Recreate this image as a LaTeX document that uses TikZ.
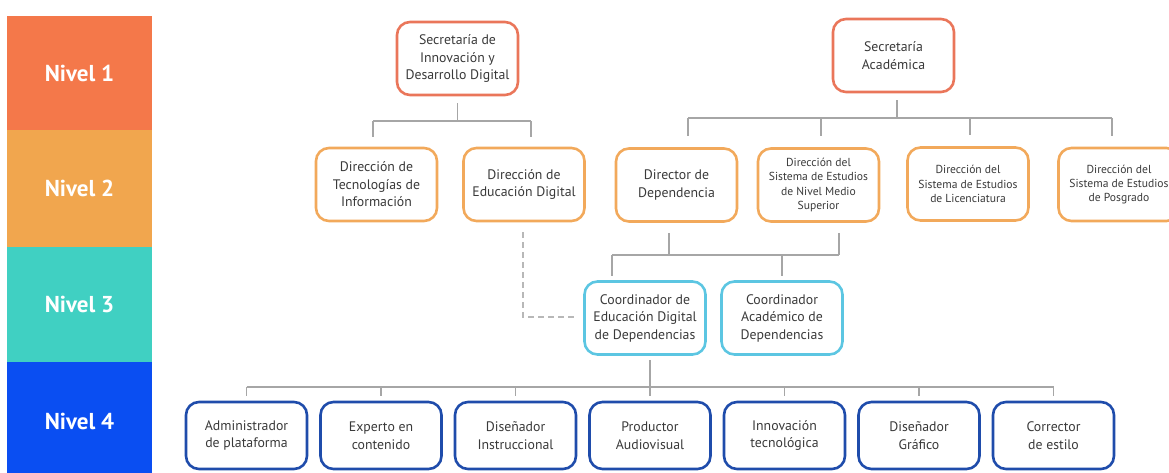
\documentclass[tikz,border=0pt]{standalone}
\usepackage{fontspec}
\setmainfont{PT Sans}
\usetikzlibrary{calc}
\definecolor{bandA}{HTML}{F4784A}
\definecolor{bandB}{HTML}{F1A64E}
\definecolor{bandC}{HTML}{40D0C2}
\definecolor{bandD}{HTML}{0A4EF2}
\definecolor{edgeA}{HTML}{EA765A}
\definecolor{edgeB}{HTML}{F2A95B}
\definecolor{edgeC}{HTML}{5CC6E2}
\definecolor{edgeD}{HTML}{1F4CAB}
\definecolor{txt}{HTML}{3A3A3A}
\definecolor{conncol}{HTML}{A6A6A6}
\tikzset{
  band/.style={fill=#1, draw=none, minimum width=145pt, inner sep=0pt, text=white,
    font=\fontsize{23}{27}\selectfont\bfseries},
  orgbox/.style={draw=#1, rounded corners=13pt, line width=2.6pt, fill=white, align=center,
    inner sep=0pt, minimum width=121pt, minimum height=73pt, text=txt,
    font=\fontsize{13.8}{17.5}\selectfont},
  smallbox/.style={orgbox=#1, font=\fontsize{11.6}{14.3}\selectfont},
  conn/.style={draw=conncol, line width=1.4pt},
  dconn/.style={draw=conncol!80, line width=1.4pt, dash pattern=on 6pt off 4pt}
}
\begin{document}
\begin{tikzpicture}[x=1pt,y=-1pt]
\useasboundingbox (0,0) rectangle (1169,472);
% level bands
\node[band=bandA, minimum height=114pt] (L1) at (79.5,73) {Nivel 1};
\node[band=bandB, minimum height=117pt] (L2) at (79.5,188.5) {Nivel 2};
\node[band=bandC, minimum height=115pt] (L3) at (79.5,304.5) {Nivel 3};
\node[band=bandD, minimum height=118pt] (L4) at (79.5,421) {Nivel 4};
% level 1
\node[orgbox=edgeA] (SID) at (457.5,58.5) {Secretaría de\\Innovación y\\Desarrollo Digital};
\node[orgbox=edgeA] (SA) at (893.5,55.5) {Secretaría\\Académica};
% level 2
\node[orgbox=edgeB] (DTI) at (376.5,184.5) {Dirección de\\Tecnologías de\\Información};
\node[orgbox=edgeB] (DED) at (524,184.5) {Dirección de\\Educación Digital};
\node[orgbox=edgeB] (DD) at (676.5,185) {Director de\\Dependencia};
\node[smallbox=edgeB] (DSNMS) at (818.5,185) {Dirección del\\Sistema de Estudios\\de Nivel Medio\\Superior};
\node[smallbox=edgeB] (DSL) at (968,184) {Dirección del\\Sistema de Estudios\\de Licenciatura};
\node[smallbox=edgeB] (DSP) at (1119,184.5) {Dirección del\\Sistema de Estudios\\de Posgrado};
% level 3
\node[orgbox=edgeC] (CED) at (645,318) {Coordinador de\\Educación Digital\\de Dependencias};
\node[orgbox=edgeC] (CAD) at (782,318) {Coordinador\\Académico de\\Dependencias};
% level 4
\foreach \n/\t [count=\i from 0] in {ADM/{Administrador\\de plataforma},EXP/{Experto en\\contenido},DIN/{Diseñador\\Instruccional},PRO/{Productor\\Audiovisual},INN/{Innovación\\tecnológica},DGR/{Diseñador\\Gráfico},COR/{Corrector\\de estilo}}
  \node[orgbox=edgeD, minimum height=67pt] (\n) at (246.5+134.5*\i,435.5) {\t};
% tree 1
\coordinate (b1l) at (373,121);
\coordinate (b1r) at (531,121);
\draw[conn, shorten <=7pt] (SID.south) -- (SID.south |- b1l);
\draw[conn] (b1l) -- (b1r);
\draw[conn, shorten >=10pt] (b1l) -- (b1l |- DTI.north);
\draw[conn, shorten >=10pt] (b1r) -- (b1r |- DED.north);
% tree 2
\coordinate (b2s) at (897,118);
\coordinate (b2a) at (688,118);
\coordinate (b2b) at (821,118);
\coordinate (b2c) at (970,118);
\coordinate (b2d) at (1112,118);
\draw[conn, shorten <=7pt] (b2s |- SA.south) -- (b2s);
\draw[conn] (b2a) -- (b2d);
\draw[conn, shorten >=11pt] (b2a) -- (b2a |- DD.north);
\draw[conn, shorten >=11pt] (b2b) -- (b2b |- DSNMS.north);
\draw[conn, shorten >=11pt] (b2c) -- (b2c |- DSL.north);
\draw[conn, shorten >=11pt] (b2d) -- (b2d |- DSP.north);
% tree 3
\coordinate (b3a) at (669,255);
\coordinate (b3b) at (839,255);
\coordinate (b3l) at (612,255);
\coordinate (b3r) at (782,255);
\draw[conn, shorten <=10pt] (b3a |- DD.south) -- (b3a);
\draw[conn, shorten <=10pt] (b3b |- DSNMS.south) -- (b3b);
\draw[conn] (b3l) -- (b3b);
\draw[conn, shorten >=4pt] (b3l) -- (b3l |- CED.north);
\draw[conn, shorten >=4pt] (b3r) -- (b3r |- CAD.north);
% dashed link
\coordinate (dk) at (523,317);
\draw[dconn, shorten <=10pt, shorten >=5pt] (dk |- DED.south) -- (dk) -- (CED.west |- dk);
% tree 4
\coordinate (b4s) at (650,387);
\draw[conn, shorten <=4pt] (b4s |- CED.south) -- (b4s);
\draw[conn] (ADM.north |- b4s) -- (COR.north |- b4s);
\foreach \n in {ADM,EXP,DIN,PRO,INN,DGR,COR}
  \draw[conn, shorten >=5pt] (\n.north |- b4s) -- (\n.north);
\end{tikzpicture}
\end{document}
